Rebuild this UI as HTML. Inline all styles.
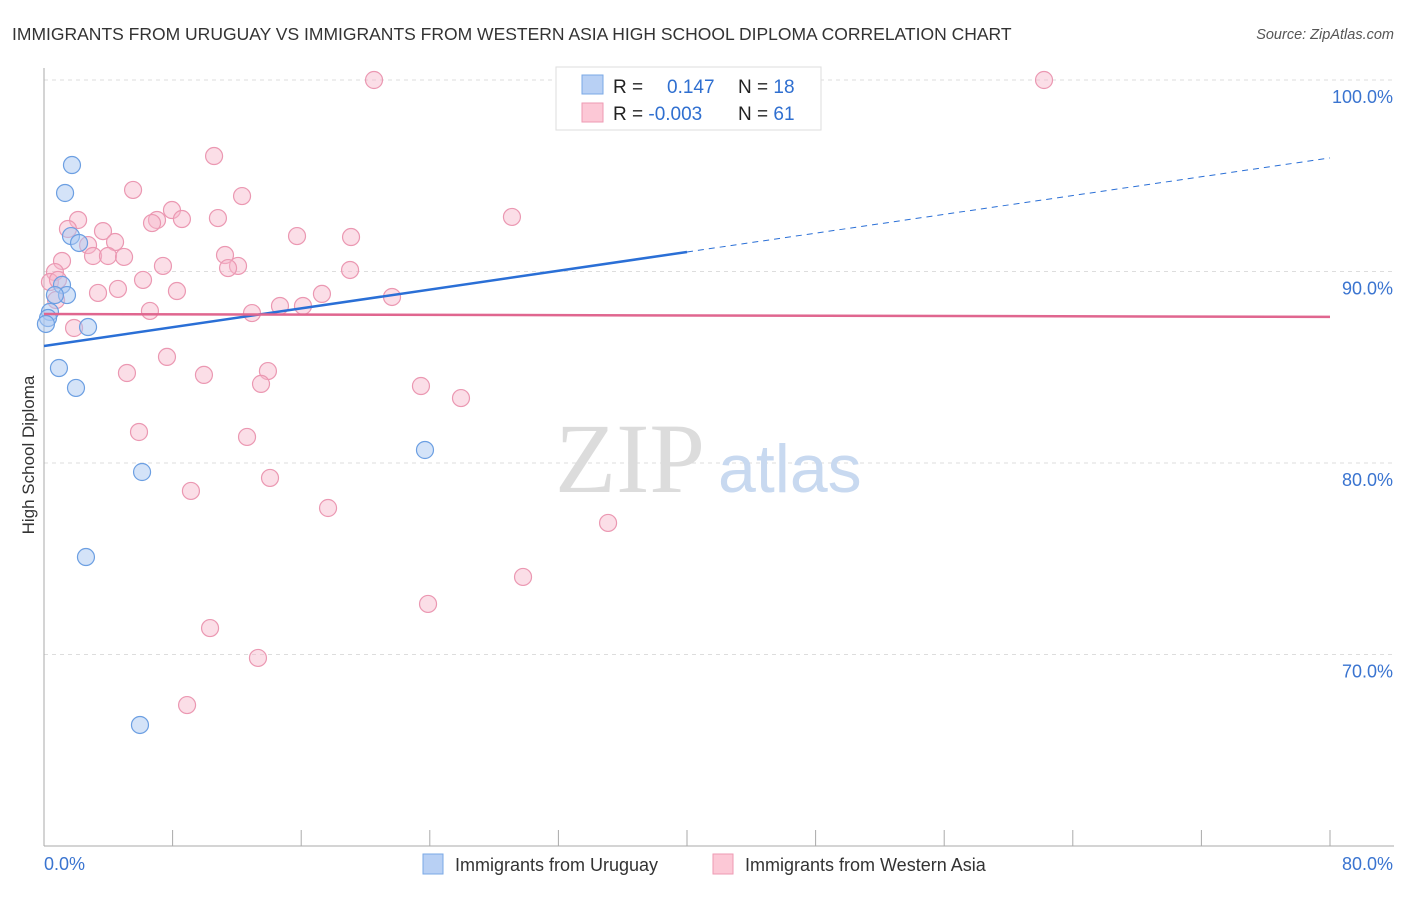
<!DOCTYPE html>
<html><head><meta charset="utf-8"><style>
body{margin:0;background:#fff;font-family:"Liberation Sans",sans-serif;}
svg text{font-family:"Liberation Sans",sans-serif;}
</style></head><body>
<svg width="1406" height="892" xmlns="http://www.w3.org/2000/svg">
<text x="12" y="40" font-size="17.5" fill="#333">IMMIGRANTS FROM URUGUAY VS IMMIGRANTS FROM WESTERN ASIA HIGH SCHOOL DIPLOMA CORRELATION CHART</text>
<text x="1394" y="39" font-size="14.5" fill="#555" text-anchor="end" font-style="italic">Source: ZipAtlas.com</text>
<g id="grid"></g>
<text x="555" y="492" font-size="100" fill="#dcdcdc" font-family="Liberation Serif" style="font-family:'Liberation Serif',serif">ZIP</text>
<text x="718" y="492" font-size="68" fill="#c8d9f0">atlas</text>
<g id="axes"></g>
<g id="marks"></g>
<text transform="translate(34,455) rotate(-90)" font-size="17" fill="#333" text-anchor="middle">High School Diploma</text>
<g>
<rect x="556" y="67" width="265" height="63" fill="#fff" stroke="#ddd"/>
<rect x="582" y="75" width="21" height="19" fill="#b8d0f4" stroke="#7aa8e6"/>
<rect x="582" y="103" width="21" height="19" fill="#fcc8d6" stroke="#ee9ab3"/>
<text x="613" y="93" font-size="19" fill="#222">R = <tspan x="667" fill="#2f6fd0">0.147</tspan><tspan x="738" fill="#222">N = </tspan><tspan fill="#2f6fd0">18</tspan></text>
<text x="613" y="120" font-size="19" fill="#222">R = <tspan fill="#2f6fd0">-0.003</tspan><tspan x="738" fill="#222">N = </tspan><tspan fill="#2f6fd0">61</tspan></text>
</g>
<g>
<rect x="423" y="854" width="20" height="20" fill="#b8d0f4" stroke="#7aa8e6"/>
<text x="455" y="871" font-size="18" fill="#333">Immigrants from Uruguay</text>
<rect x="713" y="854" width="20" height="20" fill="#fcc8d6" stroke="#ee9ab3"/>
<text x="745" y="871" font-size="18" fill="#333">Immigrants from Western Asia</text>
</g>
</svg>
<script>
const blueX=[1.74,1.31,1.68,2.18,1.12,1.43,0.68,0.37,0.25,0.12,2.74,0.93,1.99,6.1,2.61,5.97,23.7,35.4];
const blueY=[95.56,94.1,91.85,91.49,89.3,88.77,88.77,87.89,87.57,87.26,87.1,84.96,83.92,79.53,75.09,66.32,80.68,100];
const pinkX=[20.53,44.11,62.21,10.58,5.54,12.32,7.96,2.12,7.03,6.72,8.58,10.82,29.11,1.49,3.67,15.74,19.1,2.74,4.42,3.05,3.98,4.98,11.26,1.12,7.4,12.07,11.45,0.68,0.37,0.87,6.16,19.04,3.36,4.6,8.27,17.29,21.65,14.68,16.11,12.94,6.59,1.87,0.75,7.65,5.16,9.95,13.93,13.5,23.45,25.94,5.91,12.63,14.06,9.14,17.67,35.09,29.8,23.89,10.33,13.31,8.9];
const pinkY=[100,100,100,96.03,94.26,93.94,93.21,92.69,92.69,92.53,92.74,92.79,92.85,92.22,92.11,91.85,91.8,91.38,91.54,90.81,90.81,90.76,90.86,90.55,90.29,90.29,90.18,89.97,89.45,89.56,89.56,90.08,88.88,89.09,88.98,88.83,88.67,88.2,88.2,87.83,87.94,87.05,88.51,85.54,84.7,84.6,84.8,84.13,84.02,83.39,81.62,81.36,79.22,78.54,77.65,76.87,74.05,72.64,71.38,69.82,67.36];
const yTicks=[100,90,80,70];
const yTickLabels=["100.0%","90.0%","80.0%","70.0%"];
const xTicks=[0,8,16,24,32,40,48,56,64,72,80];
const blueTrend=[86.11,95.93];
const pinkTrend=[87.78,87.63];
const blueSolidEnd=40;

const NS="http://www.w3.org/2000/svg";
const sx=v=>44+v/80*1286;
const sy=v=>80+(100-v)*19.15;
function mk(tag,attrs,parent){const e=document.createElementNS(NS,tag);for(const k in attrs)e.setAttribute(k,attrs[k]);parent.appendChild(e);return e;}
const grid=document.getElementById('grid'),axes=document.getElementById('axes'),marks=document.getElementById('marks');
yTicks.forEach((t,i)=>{
 const l=mk('line',{x1:44,x2:1394,y1:sy(t),y2:sy(t),stroke:'#ddd','stroke-dasharray':'4,4'},grid);
 
 
 const tx=mk('text',{x:1393,y:sy(t)+23,'font-size':18,fill:'#3a74d0','text-anchor':'end'},grid);
 tx.textContent=yTickLabels[i];
 
 
});
const ya=mk('line',{x1:44,x2:44,y1:68,y2:846,stroke:'#aaa'},axes);


const xa=mk('line',{x1:44,x2:1394,y1:846,y2:846,stroke:'#aaa'},axes);


xTicks.forEach(t=>{
 const l=mk('line',{x1:sx(t),x2:sx(t),y1:830,y2:846,stroke:'#aaa'},axes);
 
 
});
const x0=mk('text',{x:44,y:870,'font-size':18,fill:'#3a74d0'},axes);x0.textContent='0.0%';


const x1=mk('text',{x:1393,y:870,'font-size':18,fill:'#3a74d0','text-anchor':'end'},axes);x1.textContent='80.0%';



pinkX.forEach((v,i)=>{
 const c=mk('circle',{cx:sx(v),cy:sy(pinkY[i]),r:8.5,fill:'rgba(246,182,202,0.45)',stroke:'#eb98b2','stroke-width':1.2},marks);
 
 
});
blueX.forEach((v,i)=>{
 const c=mk('circle',{cx:sx(v),cy:sy(blueY[i]),r:8.5,fill:'rgba(170,200,242,0.5)',stroke:'#6c9fe2','stroke-width':1.2},marks);
 
 
});
const bAt=x=>blueTrend[0]+(blueTrend[1]-blueTrend[0])*x/80;
const b1=mk('line',{x1:sx(0),y1:sy(blueTrend[0]),x2:sx(blueSolidEnd),y2:sy(bAt(blueSolidEnd)),stroke:'#2a6fd6','stroke-width':2.5},marks);


const b2=mk('line',{x1:sx(blueSolidEnd),y1:sy(bAt(blueSolidEnd)),x2:sx(80),y2:sy(blueTrend[1]),stroke:'#2a6fd6','stroke-width':1,'stroke-dasharray':'6,5'},marks);


const p1=mk('line',{x1:sx(0),y1:sy(pinkTrend[0]),x2:sx(80),y2:sy(pinkTrend[1]),stroke:'#e0668f','stroke-width':2.5},marks);


</script>
</body></html>
